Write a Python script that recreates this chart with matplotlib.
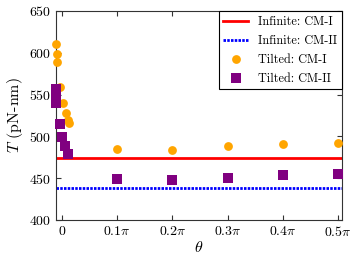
import numpy as np
import matplotlib
matplotlib.use('Agg')
import matplotlib.pyplot as plt

plt.rcParams['font.family'] = 'cmr10'
plt.rcParams['mathtext.fontset'] = 'cm'
plt.rcParams['axes.formatter.use_mathtext'] = True

# tilted angle (rad) and energy T (pN-nm)
th_c1 = [-0.0323, -0.0283, -0.0249, -0.0096, 0.0091, 0.0226, 0.0374, 0.0430,
         0.1*np.pi, 0.2*np.pi, 0.3*np.pi, 0.4*np.pi, 0.5*np.pi]
T_c1 = [611, 599, 589, 559, 540, 528, 520, 516,
        485, 484, 488, 491, 492.5]

th_c2 = [-0.0323, -0.0323, -0.0310, -0.0125, 0.0017, 0.0187, 0.0360,
         0.1*np.pi, 0.2*np.pi, 0.3*np.pi, 0.4*np.pi, 0.5*np.pi]
T_c2 = [557, 548, 540, 515, 499.5, 489, 479,
        448.7, 447.8, 450.6, 453.5, 455]

T_inf_c1 = 474
T_inf_c2 = 438

xticks = [0, 0.1*np.pi, 0.2*np.pi, 0.3*np.pi, 0.4*np.pi, 0.5*np.pi]
xticklabels = [r'$0$', r'$0.1\pi$', r'$0.2\pi$', r'$0.3\pi$', r'$0.4\pi$', r'$0.5\pi$']
yticks = [400, 450, 500, 550, 600, 650]

fig = plt.figure(figsize=(3.57, 2.61), dpi=100)
ax = fig.add_axes([0.157, 0.157, 0.8, 0.801])

ax.axhline(T_inf_c1, color='red', lw=2, label='Infinite: CM-I', zorder=2)
ax.axhline(T_inf_c2, color='blue', lw=2, linestyle=(0, (0.9, 0.45)),
           label='Infinite: CM-II', zorder=2)
ax.scatter(th_c1, T_c1, s=40, marker='o', color='orange', lw=0,
           label='Tilted: CM-I', zorder=3, clip_on=False)
ax.scatter(th_c2, T_c2, s=42, marker='s', color='purple', lw=0,
           label='Tilted: CM-II', zorder=4, clip_on=False)

ax.set_xlim(-0.0103*np.pi, 0.5061*np.pi)
ax.set_ylim(400, 650)
ax.set_xticks(xticks)
ax.set_xticklabels(xticklabels)
ax.set_yticks(yticks)
ax.set_yticklabels([r'$%d$' % v for v in yticks])
ax.tick_params(direction='in', top=True, right=True, labelsize=10,
               length=3.5, width=0.8, color='#333333')
for s in ax.spines.values():
    s.set_color('#333333')
    s.set_linewidth(0.8)

ax.set_xlabel(r'$\theta$', fontsize=11.5, labelpad=1)
ax.set_ylabel(r'$T$ (pN-nm)', fontsize=11.5, labelpad=3)

leg = ax.legend(loc='upper right', fontsize=8.8, fancybox=False,
                edgecolor='black', framealpha=1, borderaxespad=0,
                handlelength=2.0, labelspacing=0.55)
leg.get_frame().set_linewidth(0.8)

fig.savefig('out.png', dpi=100)
